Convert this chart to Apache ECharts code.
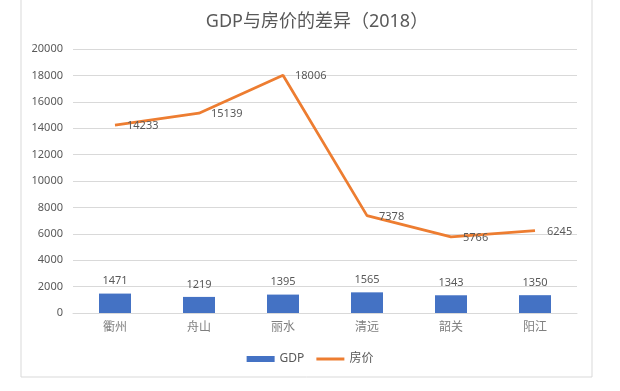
<!DOCTYPE html>
<html><head><meta charset="utf-8">
<script src="https://cdn.jsdelivr.net/npm/echarts@6/dist/echarts.min.js"></script>
<style>html,body{margin:0;padding:0;background:#fff}#c{width:620px;height:391px}</style>
</head><body><div id="c"></div>
<script>
const categories = ['衢州','舟山','丽水','清远','韶关','阳江'];
const gdp = [1471,1219,1395,1565,1343,1350];
const price = [14233,15139,18006,7378,5766,6245];
const FONT = '"Noto Sans", "Noto Sans CJK SC", sans-serif';
const chart = echarts.init(document.getElementById('c'), null, {renderer:'canvas'});
chart.setOption({
  animation:false,
  backgroundColor:'#fff',
  textStyle:{fontFamily:FONT},
  title:{text:'GDP与房价的差异（2018）',left:312,top:8,textAlign:'center',
    textStyle:{fontSize:18,fontWeight:'normal',color:'#595959',fontFamily:FONT}},
  graphic:[{type:'rect',shape:{x:21,y:-5,width:571,height:382},
    style:{fill:'none',stroke:'#d9d9d9',lineWidth:1},silent:true,z:-1}],
  legend:{bottom:21,left:'center',itemGap:12,itemWidth:28,itemHeight:6,
    textStyle:{color:'#595959',fontSize:12,fontFamily:FONT},
    data:[{name:'GDP',icon:'rect'},{name:'房价',icon:'path://M0,0H28V3H0Z'}]},
  grid:{left:73,right:43,top:49,bottom:78,containLabel:false},
  xAxis:{type:'category',data:categories,
    axisLine:{lineStyle:{color:'#d9d9d9'}},axisTick:{show:false},
    axisLabel:{color:'#7f7f7f',fontSize:12,margin:9,fontFamily:FONT}},
  yAxis:{type:'value',min:0,max:20000,interval:2000,
    axisLine:{show:false},axisTick:{show:false},
    splitLine:{lineStyle:{color:'#d9d9d9'}},
    axisLabel:{color:'#595959',fontSize:11,margin:10,fontFamily:FONT,formatter:v=>String(v)}},
  series:[
    {name:'GDP',type:'bar',data:gdp,barWidth:32,
      itemStyle:{color:'#4472C4'},
      label:{show:true,position:'top',distance:7,color:'#595959',fontSize:11,fontFamily:FONT}},
    {name:'房价',type:'line',data:price,symbol:'circle',symbolSize:0,showSymbol:true,
      lineStyle:{color:'#ED7D31',width:2.75},itemStyle:{color:'#ED7D31'},
      label:{show:true,position:'right',distance:12,offset:[0,1],color:'#595959',fontSize:11,fontFamily:FONT}}
  ]
});
</script></body></html>
